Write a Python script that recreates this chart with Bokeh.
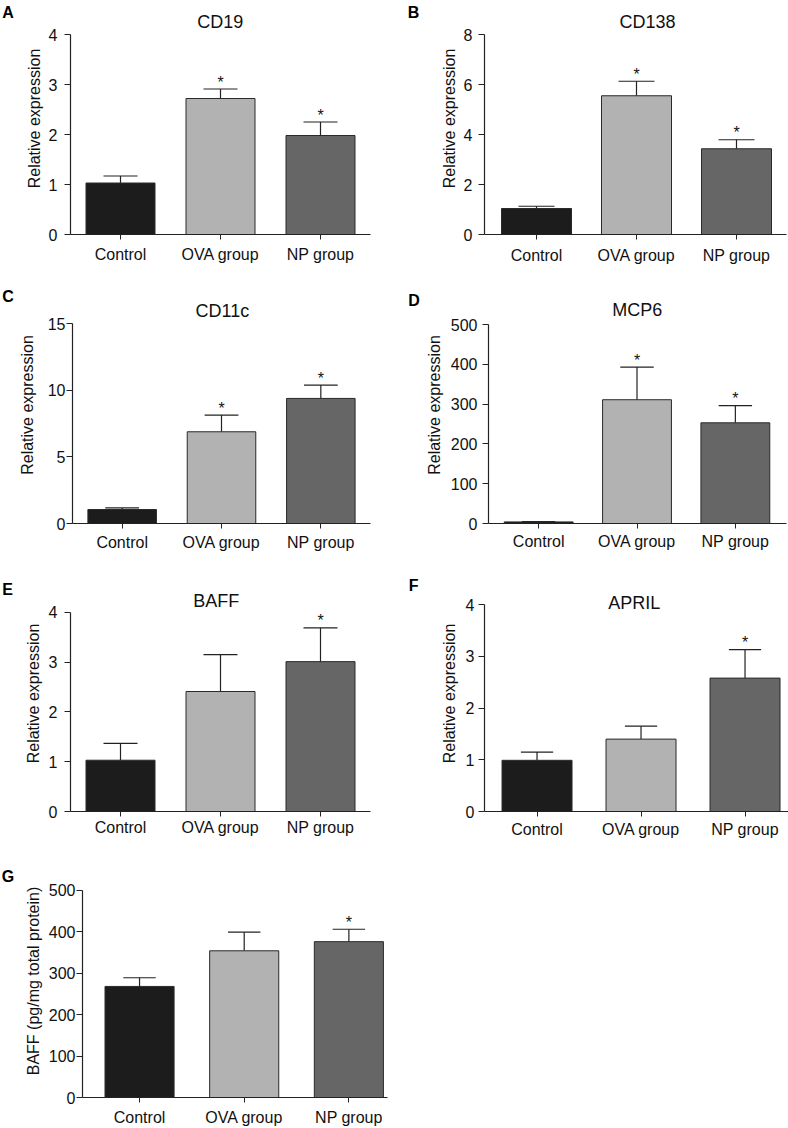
from bokeh.plotting import figure
from bokeh.layouts import column, row
from bokeh.models import Range1d, FixedTicker, ColumnDataSource
from bokeh.transform import dodge
from bokeh.core.properties import value
from bokeh.embed import file_html
from bokeh.resources import INLINE

# ---------------- data ----------------
groups = ["Control", "OVA group", "NP group"]
bar_colors = ["#1c1c1c", "#b2b2b2", "#666666"]

cd19_mean = [1.03, 2.72, 1.98]
cd19_upper = [1.17, 2.91, 2.25]
cd19_star = ["", "*", "*"]
cd19_ticks = [0, 1, 2, 3, 4]

cd138_mean = [1.04, 5.55, 3.43]
cd138_upper = [1.13, 6.13, 3.79]
cd138_star = ["", "*", "*"]
cd138_ticks = [0, 2, 4, 6, 8]

cd11c_mean = [1.05, 6.88, 9.38]
cd11c_upper = [1.17, 8.13, 10.38]
cd11c_star = ["", "*", "*"]
cd11c_ticks = [0, 5, 10, 15]

mcp6_mean = [4, 311, 253]
mcp6_upper = [5, 393, 296]
mcp6_star = ["", "*", "*"]
mcp6_ticks = [0, 100, 200, 300, 400, 500]

baff_mean = [1.03, 2.41, 3.01]
baff_upper = [1.37, 3.15, 3.69]
baff_star = ["", "", "*"]
baff_ticks = [0, 1, 2, 3, 4]

april_mean = [0.99, 1.40, 2.58]
april_upper = [1.15, 1.65, 3.13]
april_star = ["", "", "*"]
april_ticks = [0, 1, 2, 3, 4]

baffp_mean = [268, 354, 376]
baffp_upper = [289, 399, 406]
baffp_star = ["", "", "*"]
baffp_ticks = [0, 100, 200, 300, 400, 500]

FONT = "Liberation Sans"


def make_strip(G, letter, lx, lyc):
    """Narrow strip left of a panel carrying the panel letter.
    Its frame spans the same rows as the panel frame (rows align frames);
    its y range is expressed in pixels from the top of the cell."""
    cx, cy, cw, ch, sw = G["cell"]
    top_b = G["FT"] - cy
    bot_b = cy + ch - G["Z"]
    sp = figure(width=sw, height=ch, x_range=Range1d(0, sw),
                y_range=Range1d(G["Z"] - cy, G["FT"] - cy),
                x_axis_type=None, y_axis_type=None, output_backend="svg",
                toolbar_location=None, min_border_left=0, min_border_right=0,
                min_border_top=top_b, min_border_bottom=bot_b)
    sp.outline_line_color = None
    sp.grid.visible = False
    sp.text(x=[lx], y=[lyc], text=[letter], text_align="center",
            text_baseline="middle", text_font=value(FONT), text_font_size="16px",
            text_font_style="bold", text_color="#000000")
    return sp


def make_panel(title, ylabel, mean, upper, star, ticks, G):
    # G: page-pixel geometry of the cell and of the plotting frame
    cx, cy, cw, ch, sw = G["cell"]
    FL, FR, FT, Z, T = G["FL"], G["FR"], G["FT"], G["Z"], G["T"]
    V = ticks[-1]
    y_end = V * (Z - FT) / (Z - T)
    p = figure(width=cw - sw, height=ch,
               x_range=Range1d(G["x0"], G["x1"]),
               y_range=Range1d(ticks[0], y_end),
               output_backend="svg", toolbar_location=None,
               min_border_left=FL - cx - sw, min_border_right=cx + cw - FR,
               min_border_top=FT - cy, min_border_bottom=cy + ch - Z)
    p.outline_line_color = None
    p.grid.visible = False
    p.background_fill_color = "white"
    p.border_fill_color = "white"

    pos = list(range(len(groups)))
    src = ColumnDataSource(dict(x=pos, mean=mean, upper=upper, star=star,
                                color=bar_colors))
    p.segment(x0="x", y0="mean", x1="x", y1="upper", source=src,
              line_color="#222222", line_width=1.2)
    p.segment(x0=dodge("x", -G["cap"]), y0="upper", x1=dodge("x", G["cap"]),
              y1="upper", source=src, line_color="#222222", line_width=1.2)
    p.vbar(x="x", top="mean", bottom=0, width=G["bw"], fill_color="color",
           line_color="#2a2a2a", line_width=1, source=src)
    p.text(x="x", y="upper", text="star", source=src, text_align="center",
           text_baseline="alphabetic", y_offset=-7,
           text_font=value(FONT), text_font_size="16px", text_color="#111111")

    if title:
        tpx, tpy = G["title_px"]
        tx = G["x0"] + (tpx - FL) / (FR - FL) * (G["x1"] - G["x0"])
        ty = (Z - tpy) * V / (Z - T)
        p.text(x=[tx], y=[ty], text=[title], text_align="center",
               text_baseline="middle", text_font=value(FONT),
               text_font_size="18px", text_color="#111111")

    # x axis
    xa = p.xaxis[0]
    xa.ticker = FixedTicker(ticks=pos)
    xa.major_label_overrides = {i: g for i, g in enumerate(groups)}
    xa.major_label_text_font = FONT
    xa.major_label_text_font_size = "16px"
    xa.major_label_text_color = "#111111"
    xa.major_label_standoff = G["xls"]
    xa.major_tick_out = 5
    xa.major_tick_in = 0
    xa.minor_tick_out = 0
    xa.minor_tick_in = 0
    xa.axis_line_color = "#222222"
    xa.major_tick_line_color = "#222222"
    xa.axis_line_width = 1.2

    # y axis
    ya = p.yaxis[0]
    ya.ticker = FixedTicker(ticks=ticks)
    ya.bounds = (ticks[0], ticks[-1])
    ya.major_label_text_font = FONT
    ya.major_label_text_font_size = "16px"
    ya.major_label_text_color = "#111111"
    ya.major_label_standoff = G["yls"]
    ya.major_tick_out = 6
    ya.major_tick_in = 0
    ya.minor_tick_out = 0
    ya.minor_tick_in = 0
    ya.axis_line_color = "#222222"
    ya.major_tick_line_color = "#222222"
    ya.axis_line_width = 1.2
    ya.axis_label = ylabel
    ya.axis_label_text_font = FONT
    ya.axis_label_text_font_size = "16px"
    ya.axis_label_text_font_style = "normal"
    ya.axis_label_text_color = "#111111"
    ya.axis_label_standoff = G["yals"]
    return p


# page-pixel geometry: cell = (left, top, width, height, letter-strip width)
GA = dict(cell=(0, 0, 394, 280, 15), FL=70, FR=370, FT=2, Z=234, T=34,
          x0=-0.5, x1=2.5, bw=0.69, cap=0.17, xls=6, yls=7, yals=3,
          title_px=(219.7, 21.7))
GB = dict(cell=(394, 0, 394, 280, 28), FL=484, FR=786, FT=2, Z=234, T=34,
          x0=-0.52, x1=2.5, bw=0.70, cap=0.18, xls=7, yls=6, yals=3,
          title_px=(647, 21.7))
GC = dict(cell=(0, 280, 394, 280, 15), FL=70, FR=370, FT=286, Z=523, T=323,
          x0=-0.5, x1=2.5, bw=0.69, cap=0.17, xls=5, yls=1, yals=9,
          title_px=(220.8, 310.7))
GD = dict(cell=(394, 280, 394, 280, 28), FL=484, FR=786, FT=286, Z=523, T=324,
          x0=-0.51, x1=2.52, bw=0.70, cap=0.17, xls=4, yls=5, yals=5,
          title_px=(634.8, 309.8))
GE = dict(cell=(0, 560, 394, 280, 15), FL=70, FR=370, FT=575, Z=812, T=612,
          x0=-0.5, x1=2.5, bw=0.69, cap=0.17, xls=2, yls=7, yals=4,
          title_px=(215.8, 600.7))
GF = dict(cell=(394, 560, 394, 280, 28), FL=484, FR=788, FT=575, Z=812, T=604.3,
          x0=-0.505, x1=2.418, bw=0.673, cap=0.155, xls=4, yls=4, yals=5,
          title_px=(633.8, 602.3))
GG = dict(cell=(0, 840, 394, 288, 15), FL=82, FR=387, FT=864, Z=1099, T=890,
          x0=-0.545, x1=2.369, bw=0.66, cap=0.155, xls=6, yls=1, yals=4)

# letter positions: (x centre, y centre) in pixels within the cell
sA = make_strip(GA, "A", 7.5, 11.5)
sB = make_strip(GB, "B", 19, 12.3)
sC = make_strip(GC, "C", 7.5, 15.7)
sD = make_strip(GD, "D", 19.5, 19.8)
sE = make_strip(GE, "E", 7, 29)
sF = make_strip(GF, "F", 19.2, 25.3)
sG = make_strip(GG, "G", 7.5, 35.7)

pA = make_panel("CD19", "Relative expression", cd19_mean, cd19_upper, cd19_star, cd19_ticks, GA)
pB = make_panel("CD138", "Relative expression", cd138_mean, cd138_upper, cd138_star, cd138_ticks, GB)
pC = make_panel("CD11c", "Relative expression", cd11c_mean, cd11c_upper, cd11c_star, cd11c_ticks, GC)
pD = make_panel("MCP6", "Relative expression", mcp6_mean, mcp6_upper, mcp6_star, mcp6_ticks, GD)
pE = make_panel("BAFF", "Relative expression", baff_mean, baff_upper, baff_star, baff_ticks, GE)
pF = make_panel("APRIL", "Relative expression", april_mean, april_upper, april_star, april_ticks, GF)
pG = make_panel(None, "BAFF (pg/mg total protein)", baffp_mean, baffp_upper, baffp_star, baffp_ticks, GG)

layout = column(
    row(sA, pA, sB, pB),
    row(sC, pC, sD, pD),
    row(sE, pE, sF, pF),
    row(sG, pG),
)

with open("out.html", "w") as f:
    f.write(file_html(layout, INLINE))
